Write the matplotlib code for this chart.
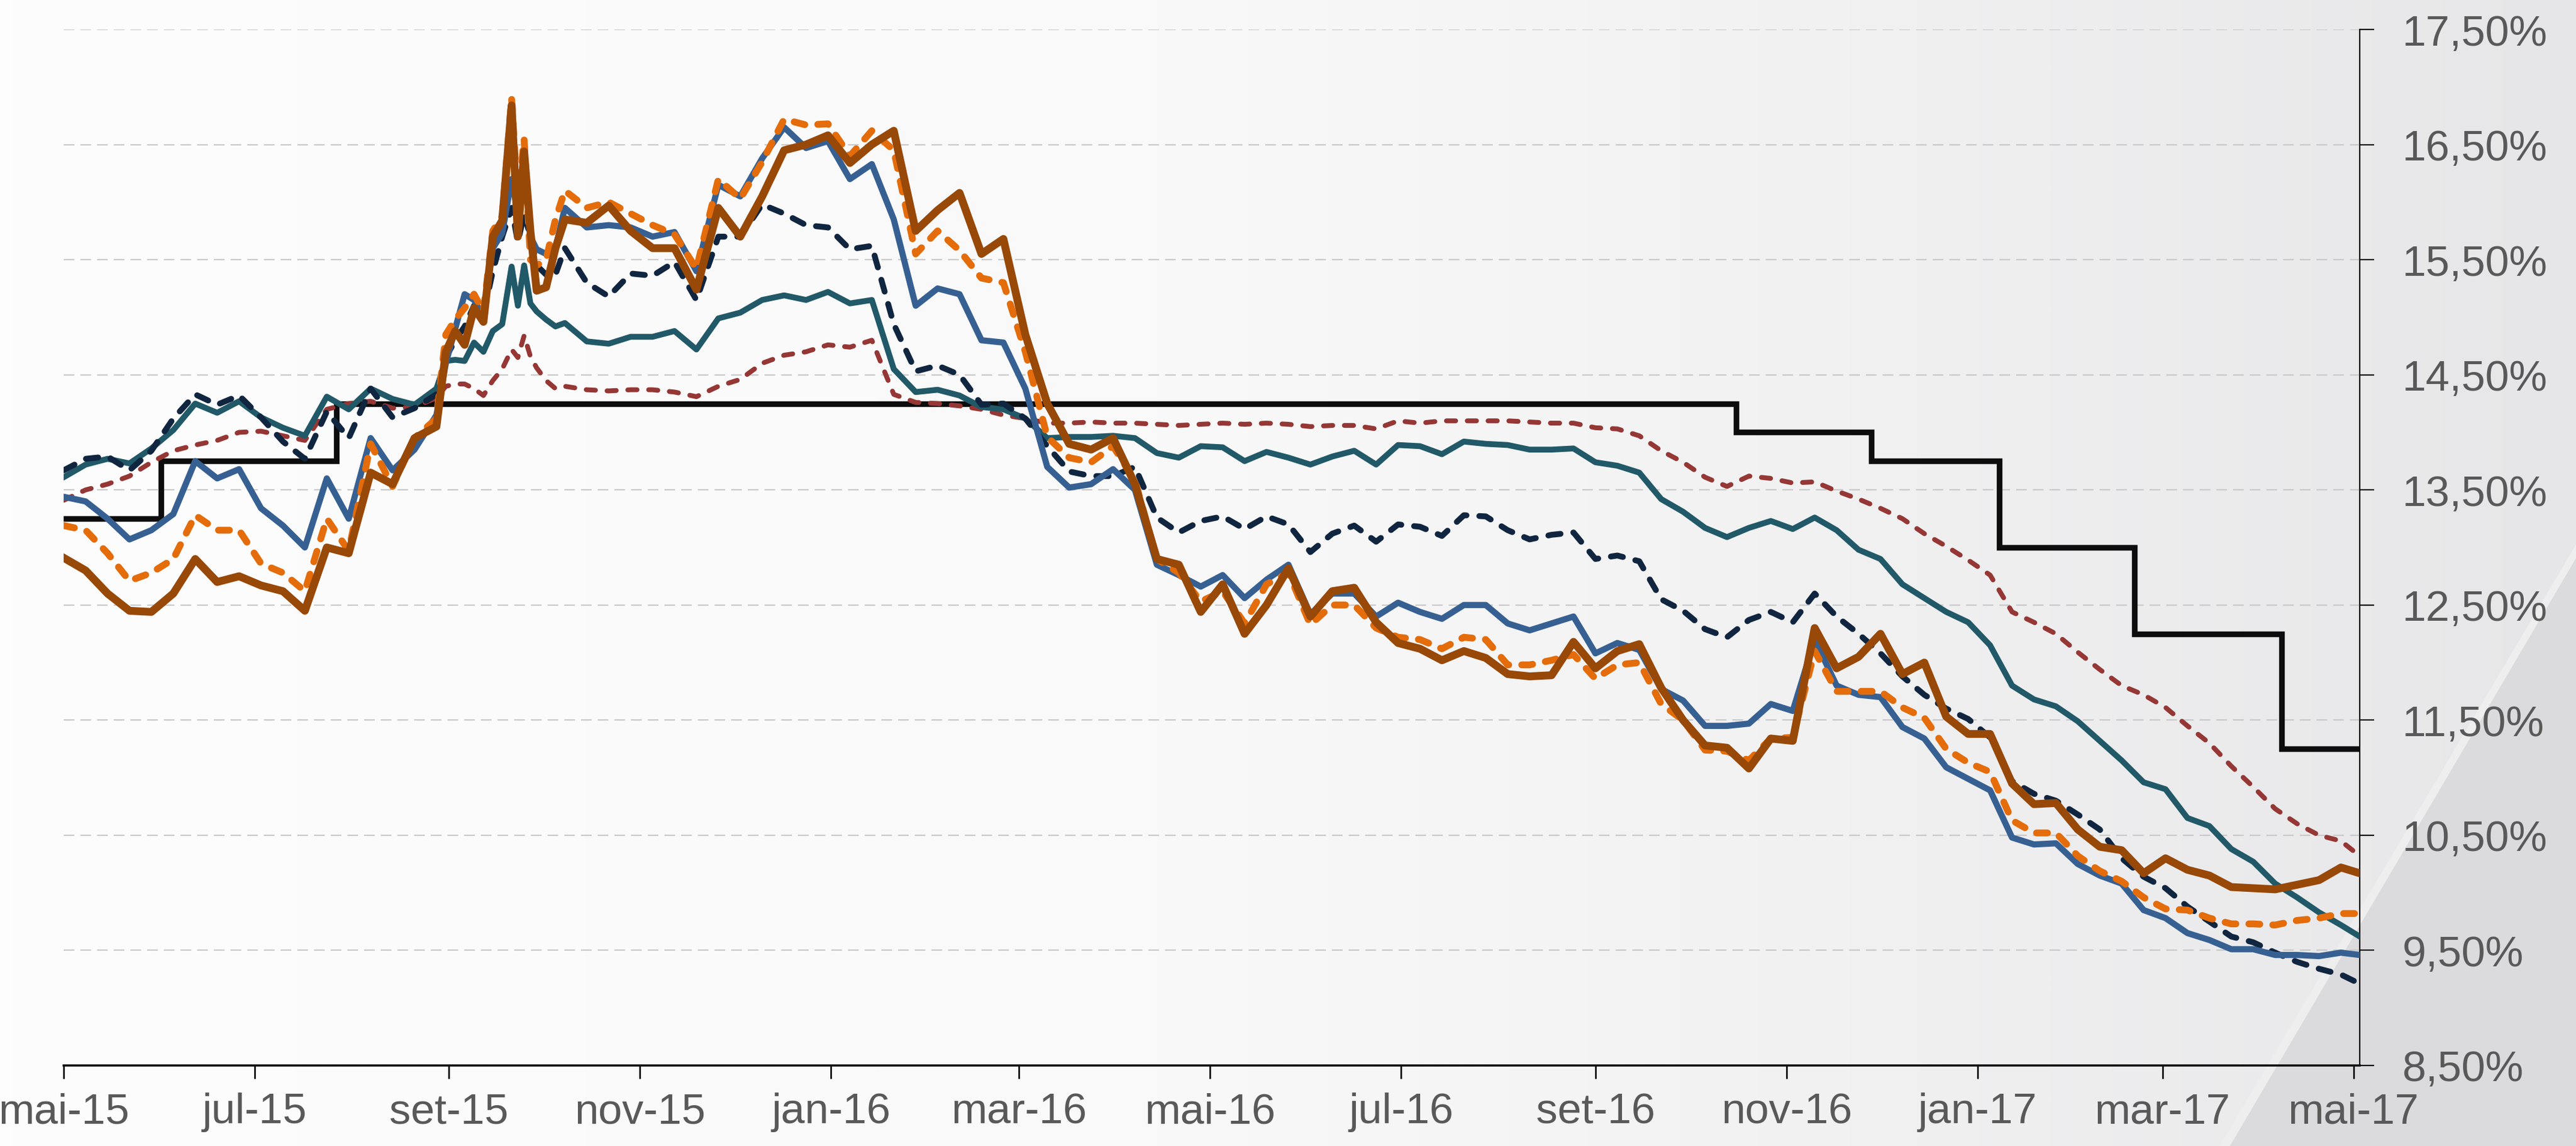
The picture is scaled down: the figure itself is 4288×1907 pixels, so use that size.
import numpy as np
import pandas as pd
import matplotlib
matplotlib.use("Agg")
import matplotlib.pyplot as plt
from matplotlib.patches import Polygon
from matplotlib.colors import LinearSegmentedColormap

# ---------------- data ----------------
start = pd.Timestamp("2015-05-01")
day_offsets = [0, 7, 14, 21, 28, 35, 42, 49, 56, 63, 70, 77, 84, 91, 98, 105, 112, 119,
               122, 125, 128, 131, 134, 137, 140, 143, 145, 147, 149, 151, 154, 157, 160,
               167, 174, 181, 188, 195, 202, 209, 216, 223, 230, 237, 244, 251, 258, 265, 272, 279, 286, 293, 300,
               307, 314, 321, 328, 335, 342, 349, 356, 363, 370, 377, 384, 391, 398, 405, 412, 419, 426, 433,
               440, 447, 454, 461, 468, 475, 482, 489, 496, 503, 510, 517, 524, 531, 538, 545, 552, 559, 566, 573, 580,
               587, 594, 601, 608, 615, 622, 629, 636, 643, 650, 657, 664, 671, 678, 685, 692, 699, 706, 713, 720, 727, 733]
dates = start + pd.to_timedelta(day_offsets, unit="D")

selic_dates = pd.to_datetime(["2015-05-01", "2015-06-01", "2015-07-27", "2016-10-16", "2016-11-28",
                              "2017-01-08", "2017-02-20", "2017-04-08", "2017-05-03"])
selic = [13.25, 13.75, 14.25, 14.00, 13.75, 13.00, 12.25, 11.25, 11.25]

red_dashed = [13.41, 13.50, 13.55, 13.62, 13.74, 13.84, 13.89, 13.93, 14.00, 14.01, 13.97, 13.93, 14.20, 14.25, 14.27, 14.21, 14.22, 14.30,
              14.40, 14.42, 14.42, 14.38, 14.32, 14.45, 14.55, 14.72, 14.65, 14.84, 14.66, 14.56, 14.45, 14.38, 14.40,
              14.37, 14.36, 14.37, 14.37, 14.35, 14.31, 14.40, 14.46, 14.60, 14.67, 14.70, 14.76, 14.74, 14.80, 14.33, 14.26, 14.25, 14.23, 14.20, 14.15,
              14.12, 14.08, 14.08, 14.09, 14.08, 14.08, 14.07, 14.06, 14.07, 14.08, 14.07, 14.08, 14.07, 14.05, 14.06, 14.06, 14.03, 14.10, 14.08,
              14.10, 14.10, 14.10, 14.10, 14.09, 14.08, 14.08, 14.04, 14.03, 13.97, 13.84, 13.74, 13.61, 13.53, 13.62, 13.60, 13.56, 13.57, 13.49, 13.42, 13.34,
              13.25, 13.12, 13.01, 12.89, 12.76, 12.44, 12.35, 12.25, 12.09, 11.94, 11.80, 11.72, 11.61, 11.45, 11.30, 11.10, 10.92, 10.73, 10.60, 10.50, 10.45, 10.32]

teal_solid = [13.61, 13.72, 13.77, 13.73, 13.86, 14.02, 14.25, 14.17, 14.27, 14.13, 14.04, 13.97, 14.31, 14.20, 14.38, 14.29, 14.24, 14.38,
              14.62, 14.63, 14.62, 14.78, 14.70, 14.88, 14.94, 15.44, 15.10, 15.45, 15.12, 15.05, 14.98, 14.92, 14.95,
              14.79, 14.77, 14.83, 14.83, 14.88, 14.72, 14.99, 15.04, 15.15, 15.19, 15.15, 15.22, 15.12, 15.15, 14.55, 14.35, 14.37, 14.32, 14.22, 14.20,
              14.12, 13.95, 13.96, 13.96, 13.97, 13.95, 13.82, 13.78, 13.88, 13.87, 13.75, 13.83, 13.78, 13.72, 13.79, 13.84, 13.72, 13.89, 13.88,
              13.81, 13.92, 13.90, 13.89, 13.85, 13.85, 13.86, 13.74, 13.71, 13.65, 13.42, 13.31, 13.17, 13.09, 13.17, 13.23, 13.16, 13.26, 13.15, 12.98, 12.90,
              12.68, 12.56, 12.44, 12.35, 12.15, 11.80, 11.68, 11.62, 11.49, 11.32, 11.15, 10.96, 10.90, 10.65, 10.58, 10.38, 10.27, 10.08, 9.96, 9.83, 9.72, 9.62]

navy_dashed = [13.67, 13.77, 13.79, 13.67, 13.84, 14.12, 14.33, 14.24, 14.32, 14.13, 13.92, 13.77, 14.18, 13.95, 14.38, 14.13, 14.21, 14.33,
               14.65, 14.80, 14.92, 15.10, 15.02, 15.40, 15.70, 15.95, 15.65, 15.90, 15.70, 15.45, 15.37, 15.37, 15.60,
               15.30, 15.18, 15.38, 15.36, 15.48, 15.15, 15.70, 15.70, 15.98, 15.90, 15.80, 15.78, 15.59, 15.62, 14.94, 14.53, 14.58, 14.50, 14.24, 14.25,
               14.12, 13.88, 13.66, 13.62, 13.62, 13.70, 13.26, 13.13, 13.23, 13.27, 13.16, 13.27, 13.20, 12.96, 13.12, 13.19, 13.05, 13.20, 13.18,
               13.10, 13.28, 13.27, 13.15, 13.07, 13.11, 13.13, 12.90, 12.93, 12.88, 12.55, 12.45, 12.29, 12.22, 12.37, 12.44, 12.35, 12.60, 12.40, 12.25, 12.08,
               11.88, 11.72, 11.60, 11.51, 11.35, 10.97, 10.86, 10.80, 10.68, 10.55, 10.30, 10.14, 10.04, 9.88, 9.75, 9.62, 9.57, 9.48, 9.40, 9.34, 9.29, 9.21]

blue_solid = [13.44, 13.40, 13.25, 13.07, 13.15, 13.29, 13.75, 13.60, 13.68, 13.34, 13.19, 13.00, 13.60, 13.25, 13.95, 13.67, 13.85, 14.15,
              14.60, 14.90, 15.20, 15.15, 15.00, 15.60, 15.73, 16.20, 15.90, 16.38, 15.70, 15.59, 15.55, 15.60, 15.95,
              15.78, 15.80, 15.78, 15.70, 15.74, 15.40, 16.15, 16.05, 16.38, 16.65, 16.47, 16.53, 16.20, 16.33, 15.85, 15.10, 15.25, 15.20, 14.80, 14.78,
              14.38, 13.70, 13.52, 13.55, 13.68, 13.50, 12.85, 12.76, 12.66, 12.76, 12.56, 12.72, 12.85, 12.42, 12.60, 12.60, 12.40, 12.52, 12.44,
              12.38, 12.50, 12.50, 12.34, 12.28, 12.34, 12.40, 12.08, 12.17, 12.11, 11.77, 11.67, 11.45, 11.45, 11.47, 11.64, 11.58, 12.20, 11.80, 11.72, 11.70,
              11.44, 11.34, 11.09, 10.99, 10.89, 10.48, 10.42, 10.43, 10.25, 10.15, 10.08, 9.85, 9.78, 9.65, 9.59, 9.51, 9.51, 9.46, 9.46, 9.45, 9.48, 9.46]

orange_dashed = [13.19, 13.15, 12.95, 12.71, 12.78, 12.90, 13.28, 13.15, 13.15, 12.86, 12.78, 12.62, 13.25, 12.97, 13.90, 13.53, 13.95, 14.12,
                 14.85, 14.98, 15.08, 15.20, 15.05, 15.75, 15.88, 16.90, 16.00, 16.55, 15.50, 15.45, 15.50, 15.85, 16.10,
                 15.95, 16.00, 15.90, 15.80, 15.72, 15.42, 16.20, 16.03, 16.35, 16.72, 16.67, 16.68, 16.40, 16.62, 16.45, 15.55, 15.75, 15.58, 15.34, 15.30,
                 14.70, 13.96, 13.78, 13.74, 13.88, 13.58, 12.90, 12.78, 12.53, 12.62, 12.34, 12.68, 12.78, 12.33, 12.50, 12.50, 12.30, 12.22, 12.20,
                 12.12, 12.22, 12.20, 11.98, 11.98, 12.02, 12.07, 11.86, 11.98, 12.00, 11.64, 11.50, 11.24, 11.23, 11.15, 11.34, 11.35, 12.10, 11.75, 11.75, 11.75,
                 11.61, 11.52, 11.25, 11.13, 11.05, 10.63, 10.52, 10.52, 10.32, 10.19, 10.10, 9.96, 9.86, 9.85, 9.78, 9.73, 9.73, 9.72, 9.76, 9.78, 9.82, 9.82]

brown_solid = [12.91, 12.80, 12.60, 12.45, 12.44, 12.60, 12.90, 12.70, 12.75, 12.67, 12.62, 12.45, 13.00, 12.95, 13.65, 13.55, 13.95, 14.05,
               14.70, 14.88, 14.76, 15.08, 14.96, 15.70, 15.84, 16.84, 15.70, 16.44, 15.75, 15.23, 15.26, 15.60, 15.85,
               15.82, 15.97, 15.75, 15.60, 15.60, 15.24, 15.95, 15.70, 16.05, 16.45, 16.50, 16.58, 16.34, 16.50, 16.62, 15.75, 15.93, 16.08, 15.55, 15.68,
               14.85, 14.25, 13.90, 13.85, 13.95, 13.55, 12.90, 12.85, 12.44, 12.68, 12.25, 12.50, 12.82, 12.40, 12.62, 12.65, 12.35, 12.17, 12.12,
               12.02, 12.10, 12.04, 11.90, 11.88, 11.89, 12.18, 11.95, 12.10, 12.16, 11.78, 11.50, 11.28, 11.26, 11.08, 11.34, 11.32, 12.30, 11.95, 12.05, 12.25,
               11.90, 12.00, 11.53, 11.38, 11.38, 10.95, 10.77, 10.78, 10.55, 10.40, 10.37, 10.17, 10.30, 10.20, 10.15, 10.05, 10.04, 10.03, 10.07, 10.11, 10.22, 10.17]

tick_dates = pd.to_datetime(["2015-05-01", "2015-07-01", "2015-09-01", "2015-11-01", "2016-01-01", "2016-03-01",
                             "2016-05-01", "2016-07-01", "2016-09-01", "2016-11-01", "2017-01-01", "2017-03-01",
                             "2017-05-01"])
tick_labels = ["mai-15", "jul-15", "set-15", "nov-15", "jan-16", "mar-16", "mai-16", "jul-16", "set-16",
               "nov-16", "jan-17", "mar-17", "mai-17"]
y_ticks = [8.5, 9.5, 10.5, 11.5, 12.5, 13.5, 14.5, 15.5, 16.5, 17.5]
y_labels = ["8,50%", "9,50%", "10,50%", "11,50%", "12,50%", "13,50%", "14,50%", "15,50%", "16,50%", "17,50%"]

# ---------------- figure ----------------
W, H, DPI = 4288, 1908, 200
plt.rcParams["font.family"] = ["Liberation Sans", "DejaVu Sans"]
fig = plt.figure(figsize=(W / DPI, H / DPI), dpi=DPI)

# background gradient + diagonal shading
bg = fig.add_axes([0, 0, 1, 1], zorder=-10)
bg.set_axis_off()
cmap = LinearSegmentedColormap.from_list(
    "bg", [(0.0, "#fdfdfd"), (0.45, "#f9f9f9"), (0.72, "#f1f1f2"), (1.0, "#e6e6e8")])
grad = np.linspace(0, 1, 512).reshape(1, -1)
bg.imshow(grad, extent=[0, 1, 0, 1], aspect="auto", cmap=cmap, vmin=0, vmax=1, interpolation="bilinear")
x0 = 3712 / W
y_top = 1 - 930 / H
bg.add_patch(Polygon([(x0 - 0.004, 0), (1, y_top + 0.012), (1, y_top), (x0, 0)],
                     closed=True, facecolor="#eeeeef", edgecolor="none"))
bg.add_patch(Polygon([(x0, 0), (1, y_top), (1, 0)], closed=True, facecolor="#dbdbdd", edgecolor="none"))
bg.set_xlim(0, 1)
bg.set_ylim(0, 1)

ax = fig.add_axes([106 / W, 1 - 1774 / H, (3928 - 106) / W, (1774 - 50) / H])
ax.set_facecolor("none")

ax.grid(axis="y", color="#c9c9c9", lw=0.8, linestyle=(0, (8, 4.5)))
ax.set_axisbelow(True)

ax.step(selic_dates, selic, where="post", color="#0d0d0d", lw=3.4, solid_joinstyle="miter", zorder=2)
ax.plot(dates, red_dashed, color="#953735", lw=2.9, ls=(0, (1.9, 2.4)), dash_capstyle="round", zorder=3)
ax.plot(dates, teal_solid, color="#215968", lw=3.5, solid_joinstyle="round", zorder=4)
ax.plot(dates, navy_dashed, color="#10253f", lw=3.5, ls=(0, (2.1, 2.2)), dash_capstyle="round", zorder=5)
ax.plot(dates, blue_solid, color="#376092", lw=3.7, solid_joinstyle="round", zorder=6)
ax.plot(dates, orange_dashed, color="#e46c0a", lw=4.1, ls=(0, (1.6, 1.9)), dash_capstyle="round", zorder=7)
ax.plot(dates, brown_solid, color="#984807", lw=4.7, solid_joinstyle="round", zorder=8)

ax.set_xlim(start, pd.Timestamp("2017-05-03"))
ax.set_ylim(8.5, 17.5)

ax.set_xticks(tick_dates)
ax.set_xticklabels(tick_labels)
ax.set_yticks(y_ticks)
ax.set_yticklabels(y_labels)
ax.yaxis.tick_right()

for s in ["left", "top"]:
    ax.spines[s].set_visible(False)
ax.spines["right"].set_linewidth(0.8)
ax.spines["right"].set_color("#111111")
ax.spines["bottom"].set_linewidth(1.3)
ax.spines["bottom"].set_color("#111111")

ax.tick_params(axis="y", direction="out", length=8.6, width=0.8, color="#111111",
               pad=17, labelsize=25.7, labelcolor="#595959")
ax.tick_params(axis="x", direction="out", length=8, width=1.0, color="#111111",
               pad=8, labelsize=25.7, labelcolor="#595959")

fig.savefig("out.png", dpi=DPI)
